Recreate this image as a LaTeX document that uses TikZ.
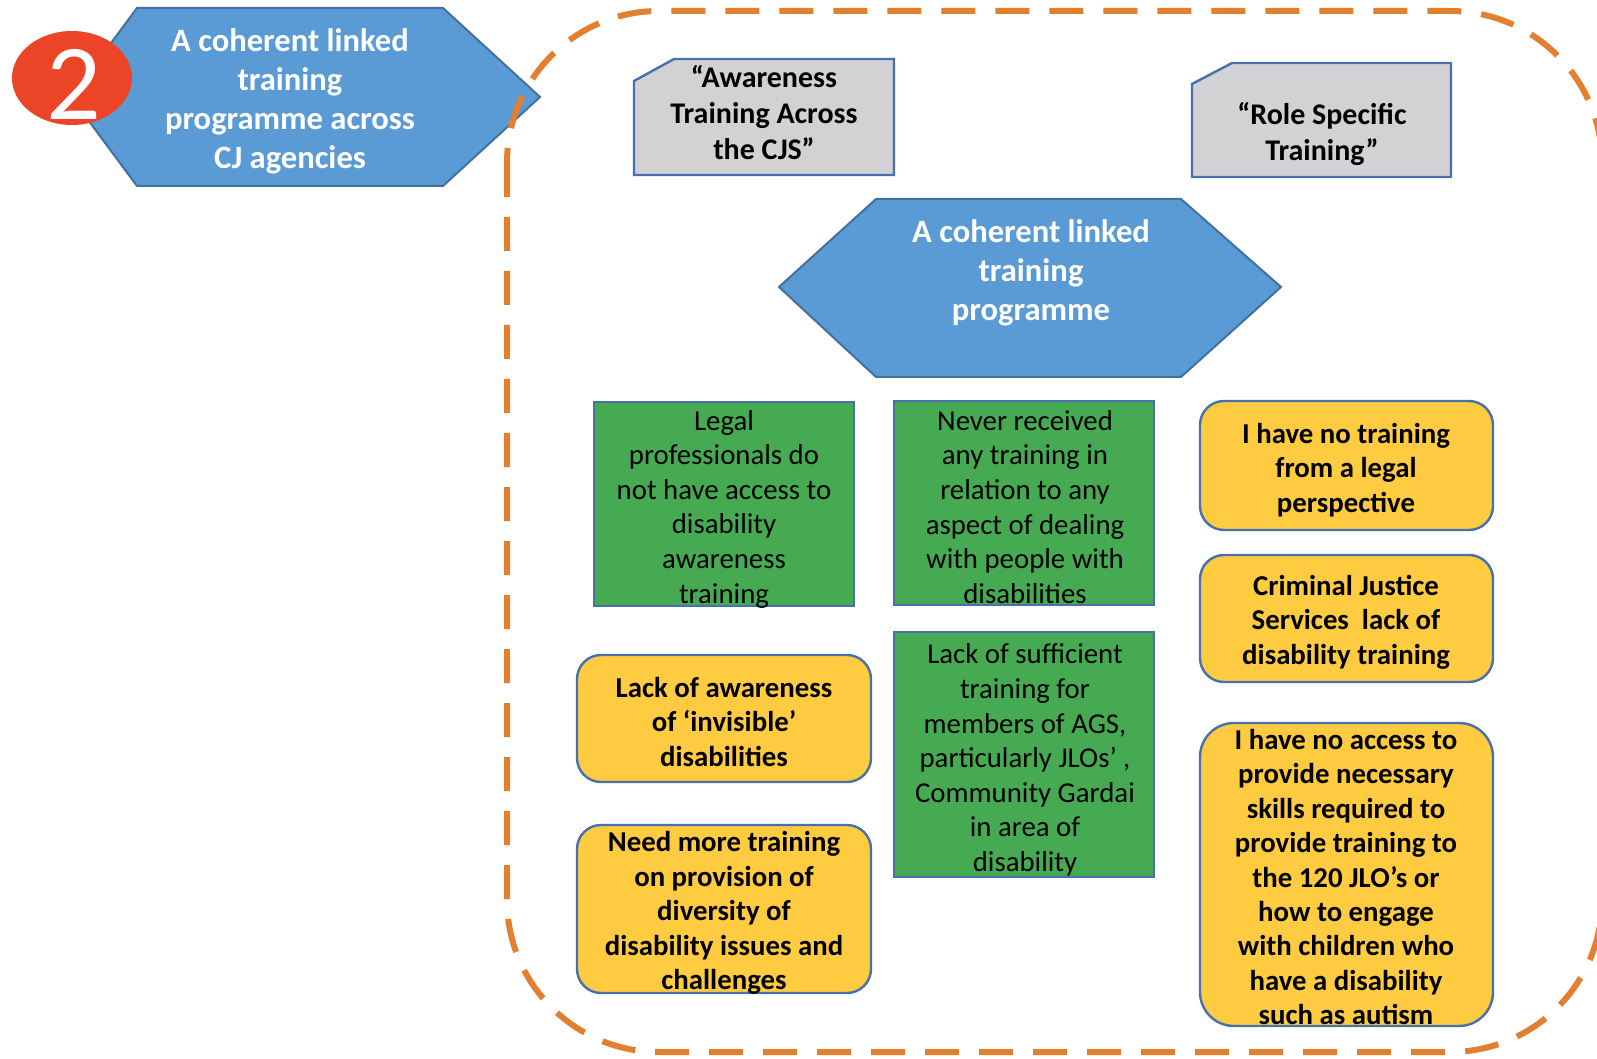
\documentclass[tikz,border=0pt]{standalone}
\usepackage{fontspec}
\setmainfont{Carlito}
\definecolor{hexblue}{RGB}{91,155,213}
\definecolor{hexedge}{RGB}{65,113,156}
\definecolor{graybg}{RGB}{210,210,212}
\definecolor{boxedge}{RGB}{72,112,175}
\definecolor{greenc}{RGB}{70,170,82}
\definecolor{yellowc}{RGB}{255,203,64}
\definecolor{orangec}{RGB}{226,128,48}
\definecolor{redc}{RGB}{235,68,38}
\begin{document}
\begin{tikzpicture}[x=0.5pt,y=-0.5pt,
  hexshape/.style={fill=hexblue,draw=hexedge,line width=1pt},
  grayshape/.style={fill=graybg,draw=boxedge,line width=1.2pt},
  greenbox/.style={fill=greenc,draw=boxedge,line width=1.2pt},
  yelbox/.style={fill=yellowc,draw=boxedge,line width=1.2pt,rounded corners=12pt},
  hextext/.style={align=center,inner sep=0pt,text=white,font=\fontsize{16.3}{19.5}\selectfont\bfseries},
  graytext/.style={align=center,inner sep=0pt,text=black,font=\fontsize{15}{18}\selectfont\bfseries},
  gtext/.style={align=center,inner sep=0pt,text=black,font=\fontsize{14.4}{17.3}\selectfont},
  ytext/.style={align=center,inner sep=0pt,text=black,font=\fontsize{14.4}{17.2}\selectfont\bfseries},
  dashline/.style={draw=orangec,line width=3pt,dash pattern=on 17pt off 10pt}
]
\useasboundingbox (0,0) rectangle (1597,1059);
\fill[white] (0,0) rectangle (1597,1059);

% left hexagon with number
\draw[hexshape] (71,97) -- (137,8) -- (443,8) -- (540,97) -- (443,186) -- (137,186) -- cycle;
\node[hextext] (h1) at (290,101) {A coherent linked\\training\\programme across\\CJ agencies};
\fill[redc] (72,78) ellipse [x radius=60, y radius=47];
\node[inner sep=0pt,text=white,font=\fontsize{54}{54}\selectfont] (num) at (74,84) {2};

% gray boxes
\draw[grayshape] (634,81) -- (674,59) -- (894,59) -- (894,175) -- (634,175) -- cycle;
\node[graytext] (aw) at (764,113) {“Awareness\\Training Across\\the CJS”};
\draw[grayshape] (1192,84) -- (1232,63) -- (1451,63) -- (1451,177) -- (1192,177) -- cycle;
\node[graytext] (rs) at (1322,134) {“Role Specific\\Training”};

% center hexagon
\draw[hexshape] (779,287) -- (876,199) -- (1181,199) -- (1281,287) -- (1181,377) -- (876,377) -- cycle;
\node[hextext] (h2) at (1031,273) {A coherent linked\\training\\programme};

% green boxes
\draw[greenbox] (594,402) rectangle (854,606);
\node[gtext] (g1) at (724,509) {Legal\\professionals do\\not have access to\\disability\\awareness\\training};
\draw[greenbox] (894,401) rectangle (1154,605);
\node[gtext] (g2) at (1025,507) {Never received\\any training in\\relation to any\\aspect of dealing\\with people with\\disabilities};
\draw[greenbox] (894,632) rectangle (1154,877);
\node[gtext] (g3) at (1025,760) {Lack of sufficient\\training for\\members of AGS,\\particularly JLOs’ ,\\Community Gardai\\in area of\\disability};

% yellow boxes right column
\draw[yelbox] (1200,401) rectangle (1493,530);
\node[ytext] (y1) at (1346,470) {I have no training\\from a legal\\perspective};
\draw[yelbox] (1200,555) rectangle (1493,682);
\node[ytext] (y2) at (1346,622) {Criminal Justice\\Services\ \ lack of\\disability training};
\draw[yelbox,rounded corners=17pt] (1200,723) rectangle (1493,1026);
\node[ytext] (y3) at (1346,877) {I have no access to\\provide necessary\\skills required to\\provide training to\\the 120 JLO’s or\\how to engage\\with children who\\have a disability\\such as autism};

% yellow boxes left column
\draw[yelbox] (577,655) rectangle (871,782);
\node[ytext] (y4) at (724,722) {Lack of awareness\\of ‘invisible’\\disabilities};
\draw[yelbox] (577,825) rectangle (871,993);
\node[ytext] (y5) at (724,913) {Need more training\\on provision of\\diversity of\\disability issues and\\challenges};

% dashed frame
\draw[dashline,rounded corners=76pt] (507,11) rectangle (1602,1052);
\end{tikzpicture}
\end{document}
